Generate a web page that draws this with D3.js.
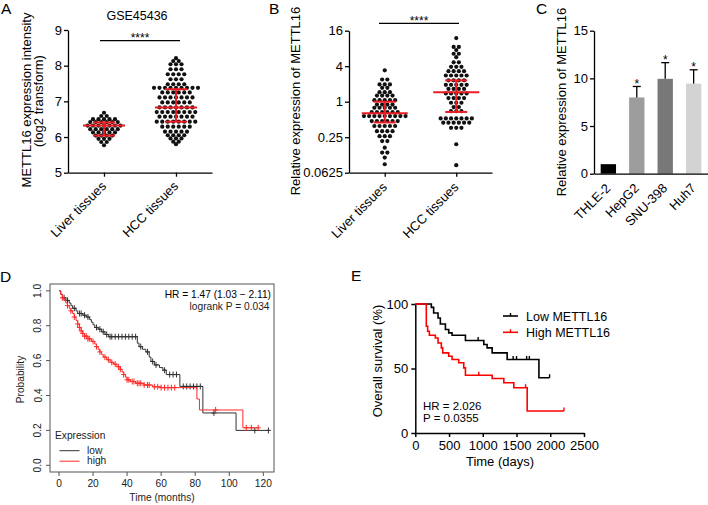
<!DOCTYPE html>
<html><head><meta charset="utf-8">
<script src="https://cdn.jsdelivr.net/npm/d3@7/dist/d3.min.js"></script>
<style>
html,body{margin:0;padding:0;background:#fff;}
svg{display:block;}
</style></head><body>
<svg id="chart" width="708" height="505" viewBox="0 0 708 505"></svg>
<script>
// ================= DATA =================
const groupsAB = ["Liver tissues", "HCC tissues"];

// Panel A – GSE45436, log2 expression intensity
const aTitle = "GSE45436";
const aTicks = [5, 6, 7, 8, 9];
const aLiver = [6.68,
  6.59,6.59,
  6.50,6.50,6.50,6.50,6.50,
  6.42,6.42,6.42,6.42,6.42,6.42,
  6.32,6.32,6.32,6.32,6.32,6.32,6.32,
  6.22,6.22,6.22,6.22,6.22,6.22,
  6.13,6.13,6.13,6.13,6.13,
  6.04,6.04,6.04,6.04,
  5.95,5.95,5.95,
  5.86,5.86,
  5.77];
const aHCC = [8.21,
  8.13,8.13,
  8.04,8.04,8.04,
  7.90,7.90,7.90,
  7.76,7.76,7.76,7.76,
  7.62,7.62,7.62,
  7.48,7.48,7.48,7.48,
  7.38,7.38,7.38,7.38,7.38,7.38,7.38,7.38,7.38,
  7.25,7.25,7.25,7.25,7.25,7.25,
  7.11,7.11,7.11,7.11,7.11,7.11,7.11,
  6.97,6.97,6.97,6.97,6.97,6.97,
  6.83,6.83,6.83,6.83,6.83,6.83,6.83,
  6.70,6.70,6.70,6.70,6.70,6.70,6.70,6.70,
  6.57,6.57,6.57,6.57,6.57,6.57,6.57,
  6.43,6.43,6.43,6.43,6.43,6.43,6.43,6.43,
  6.29,6.29,6.29,6.29,6.29,6.29,
  6.15,6.15,6.15,6.15,6.15,
  6.05,6.05,6.05,6.05,
  5.96,5.96,5.96,
  5.87,5.87,
  5.80];
const aMean = [6.32, 6.83];
const aLow  = [6.04, 6.43];
const aHigh = [6.41, 7.34];

// Panel B – relative expression (log2 axis)
const bTicks = [0.0625, 0.25, 1, 4, 16];
const bLiver = [3.41,
  2.38,2.38,
  1.96,1.96,1.96,
  1.72,1.72,
  1.45,1.45,1.45,
  1.27,1.27,1.27,1.27,
  1.06,1.06,1.06,1.06,1.06,
  0.895,0.895,0.895,0.895,
  0.79,0.79,0.79,0.79,0.79,
  0.665,0.665,0.665,0.665,0.665,0.665,
  0.57,0.57,0.57,0.57,0.57,0.57,0.57,0.57,0.57,
  0.47,0.47,0.47,0.47,0.47,0.47,
  0.387,0.387,0.387,0.387,0.387,
  0.316,0.316,0.316,0.316,
  0.26,0.26,0.26,
  0.215,0.215,
  0.166,
  0.137,0.137,
  0.113,
  0.087];
const bHCC = [12.0,
  8.5,8.5,
  7.5,
  6.5,6.5,
  5.7,
  4.66,4.66,
  3.9,3.9,3.9,
  3.3,3.3,3.3,3.3,
  2.78,2.78,2.78,2.78,2.78,
  2.3,2.3,2.3,2.3,
  1.93,1.93,1.93,1.93,1.93,
  1.65,1.65,1.65,1.65,
  1.38,1.38,1.38,1.38,1.38,
  1.15,1.15,1.15,1.15,
  0.96,0.96,0.96,
  0.81,0.81,
  0.69,0.69,0.69,
  0.52,0.52,0.52,0.52,0.52,0.52,0.52,
  0.44,0.44,0.44,0.44,0.44,0.44,
  0.36,0.36,0.36,
  0.19,
  0.084];
const bMean = [0.64, 1.44];
const bLow  = [0.445, 0.67];
const bHigh = [1.0, 2.3];

// Panel C – cell lines
const cCats = ["THLE-2", "HepG2", "SNU-398", "Huh7"];
const cValues = [1.0, 8.0, 9.95, 9.45];
const cErrors = [0, 1.15, 1.7, 1.45];
const cSig = ["", "*", "*", "*"];
const cTicks = [0, 5, 10, 15];

// Panel D – KM plotter (months)
const dLowT = [0,1,2,4,6,7,8,10,11,14,16,18,19,20,21,23,25,27,29,46,47,49,51,53,54,56,59,61,63,71,84.5,104];
const dLowS = [1,0.98,0.96,0.945,0.93,0.915,0.9,0.885,0.87,0.86,0.85,0.835,0.82,0.805,0.79,0.78,0.765,0.75,0.737,0.70,0.68,0.665,0.65,0.62,0.595,0.575,0.56,0.545,0.52,0.452,0.30,0.20];
const dLowEnd = 123;
const dLowCens = [3,5,9,12,13,15,17,22,24,26,28,30,31,33,35,37,39,41,43,45,48,52,55,57,62,65,67,69,73,75,77,79,81,83,91,115,123];
const dHighT = [0,1,2,3,4,5,6,7,8,9,10,11,12,13,14,15,17,19,21,22,23,24,25,26,28,30,32,34,36,37,38,39,40,42,45,50,55,60,81,82.5,108];
const dHighS = [1,0.98,0.96,0.945,0.93,0.915,0.9,0.885,0.87,0.85,0.83,0.81,0.79,0.77,0.755,0.74,0.725,0.71,0.695,0.68,0.665,0.65,0.635,0.62,0.605,0.59,0.58,0.565,0.55,0.535,0.52,0.505,0.49,0.48,0.47,0.46,0.45,0.445,0.38,0.317,0.215];
const dHighEnd = 117;
const dHighCens = [2,5,7,9,11,12,13,14,15,16,17,18,20,22,24,27,29,31,33,35,36,38,40,41,43,44,46,47,48,50,52,53,56,58,60,62,64,66,68,92,110,113,117];
const dXTicks = [0,20,40,60,80,100,120];
const dYTicks = [0,0.2,0.4,0.6,0.8,1.0];
const dLegend = ["low", "high"];

// Panel E – overall survival (days)
const eLowT = [0,238,272,337,371,446,495,545,743,1015,1064,1139,1361,1832];
const eLowS = [100,97.4,93,89.2,84.5,80.2,77.6,75.8,71.7,68.6,66,62.1,57,42.8];
const eLowEnd = 1990;
const eLowCens = [931,1450,1500,1650,1690,1990];
const eHighT = [0,163,183,208,297,337,386,406,495,545,644,718,743,1139,1312,1460,1658];
const eHighS = [100,82.7,78.9,75.8,73.7,69.8,66,62.1,59.5,57,54.4,50.5,44.8,42.3,39,35.1,17];
const eHighEnd = 2203;
const eHighCens = [941,1634,2203];
const eXTicks = [0,500,1000,1500,2000,2500];
const eYTicks = [0,50,100];
const eLegend = ["Low METTL16", "High METTL16"];

// ================= DRAWING =================
const FONT = '"Liberation Sans", Arial, Helvetica, sans-serif';
const svg = d3.select("#chart");
const RED = "#ec1c24";

function addText(x, y, s, size, o = {}) {
  const t = svg.append("text").attr("x", x).attr("y", y)
    .attr("font-size", size).attr("font-family", FONT)
    .attr("fill", o.fill || "#000").text(s);
  if (o.anchor) t.attr("text-anchor", o.anchor);
  if (o.rotate != null) t.attr("transform", `rotate(${o.rotate},${x},${y})`);
  return t;
}
function addLine(x1, y1, x2, y2, stroke, w) {
  return svg.append("line").attr("x1", x1).attr("y1", y1).attr("x2", x2).attr("y2", y2)
    .attr("stroke", stroke).attr("stroke-width", w);
}
function styleAxis(g, fs, color = "#000", w = 1.3) {
  g.attr("font-family", FONT).attr("font-size", fs);
  g.select(".domain").attr("stroke", color).attr("stroke-width", w);
  g.selectAll(".tick line").attr("stroke", color).attr("stroke-width", w);
  g.selectAll(".tick text").attr("fill", "#000");
}
function rowSwarm(values, cx, yScale, spacing) {
  const out = [];
  d3.groups(values, v => v).forEach(([v, arr]) => {
    const n = arr.length;
    arr.forEach((_, i) => out.push({ x: cx + (i - (n - 1) / 2) * spacing, y: yScale(v) }));
  });
  return out;
}
function meanSd(cx, ym, ylo, yhi, meanW, capW) {
  addLine(cx - meanW / 2, ym, cx + meanW / 2, ym, RED, 2);
  addLine(cx, ylo, cx, yhi, RED, 2);
  addLine(cx - capW / 2, ylo, cx + capW / 2, ylo, RED, 2);
  addLine(cx - capW / 2, yhi, cx + capW / 2, yhi, RED, 2);
}

// Panel letters
addText(1, 14, "A", 15.5);
addText(269, 14, "B", 15.5);
addText(536, 14, "C", 15.5);
addText(0, 282, "D", 15.5);
addText(351, 281, "E", 15.5);

// ---------- Panel A ----------
{
  const y = d3.scaleLinear().domain([5, 9]).range([172.7, 30]);
  const x = d3.scalePoint().domain(groupsAB).range([68, 212]).padding(0.5);
  const gy = svg.append("g").attr("transform", "translate(68,0)")
    .call(d3.axisLeft(y).tickValues(aTicks).tickSize(4).tickPadding(2).tickSizeOuter(0).tickFormat(d3.format("d")));
  styleAxis(gy, 13);
  const gx = svg.append("g").attr("transform", "translate(0,172.7)")
    .call(d3.axisBottom(x).tickSize(4).tickSizeOuter(0).tickFormat(""));
  styleAxis(gx, 13);
  groupsAB.forEach(g => addText(x(g) + 3, 187, g, 13, { anchor: "end", rotate: -45 }));
  [aLiver, aHCC].forEach((vals, i) => {
    rowSwarm(vals, x(groupsAB[i]), y, 5.5).forEach(p =>
      svg.append("circle").attr("cx", p.x).attr("cy", p.y).attr("r", 2.1).attr("fill", "#111"));
  });
  groupsAB.forEach((g, i) => meanSd(x(g), y(aMean[i]), y(aLow[i]), y(aHigh[i]), 42, 22));
  addLine(100, 40.7, 180, 40.7, "#000", 1.3);
  addText(140, 41.5, "****", 12, { anchor: "middle" });
  addText(137, 20, aTitle, 12.5, { anchor: "middle" });
  addText(30.5, 100, "METTL16 expression intensity", 13, { anchor: "middle", rotate: -90 });
  addText(42.5, 101, "(log2 transform)", 13, { anchor: "middle", rotate: -90 });
}

// ---------- Panel B ----------
{
  const y = d3.scaleLog().base(2).domain([0.0625, 16]).range([172.7, 30.7]);
  const x = d3.scalePoint().domain(groupsAB).range([349, 492]).padding(0.5);
  const gy = svg.append("g").attr("transform", "translate(349,0)")
    .call(d3.axisLeft(y).tickValues(bTicks).tickSize(4).tickPadding(2).tickSizeOuter(0).tickFormat(d => String(d)));
  styleAxis(gy, 13);
  const gx = svg.append("g").attr("transform", "translate(0,172.7)")
    .call(d3.axisBottom(x).tickSize(4).tickSizeOuter(0).tickFormat(""));
  styleAxis(gx, 13);
  groupsAB.forEach(g => addText(x(g) + 3, 188, g, 13, { anchor: "end", rotate: -45 }));
  [bLiver, bHCC].forEach((vals, i) => {
    rowSwarm(vals, x(groupsAB[i]), y, 5.2).forEach(p =>
      svg.append("circle").attr("cx", p.x).attr("cy", p.y).attr("r", 2.1).attr("fill", "#111"));
  });
  groupsAB.forEach((g, i) => meanSd(x(g), y(bMean[i]), y(bLow[i]), y(bHigh[i]), 46, 22));
  addLine(379, 23.3, 459, 23.3, "#000", 1.3);
  addText(419, 25, "****", 12, { anchor: "middle" });
  addText(300, 101, "Relative expression of METTL16", 13, { anchor: "middle", rotate: -90 });
}

// ---------- Panel C ----------
{
  const y = d3.scaleLinear().domain([0, 15]).range([173.7, 30.7]);
  const x = d3.scaleBand().domain(cCats).range([594, 708]).paddingInner(0.46).paddingOuter(0.235);
  const colors = ["#000000", "#9d9d9d", "#787878", "#d3d3d3"];
  const gy = svg.append("g").attr("transform", "translate(594,0)")
    .call(d3.axisLeft(y).tickValues(cTicks).tickSize(4).tickPadding(2).tickSizeOuter(0));
  styleAxis(gy, 13);
  svg.selectAll("rect.barC").data(cCats).enter().append("rect").attr("class", "barC")
    .attr("x", d => x(d)).attr("width", x.bandwidth())
    .attr("y", (d, i) => y(cValues[i])).attr("height", (d, i) => y(0) - y(cValues[i]))
    .attr("fill", (d, i) => colors[i]);
  const gx = svg.append("g").attr("transform", "translate(0,173.7)")
    .call(d3.axisBottom(x).tickSize(0).tickSizeOuter(0).tickFormat(""));
  styleAxis(gx, 13);
  cCats.forEach((c, i) => {
    const cx = x(c) + x.bandwidth() / 2;
    if (cErrors[i] > 0) {
      addLine(cx, y(cValues[i]), cx, y(cValues[i] + cErrors[i]), "#000", 1.3);
      addLine(cx - 4, y(cValues[i] + cErrors[i]), cx + 4, y(cValues[i] + cErrors[i]), "#000", 1.3);
    }
    if (cSig[i]) addText(cx, y(cValues[i] + cErrors[i]) + 1.5, cSig[i], 12, { anchor: "middle" });
    addText(cx + 3, 189, c, 13, { anchor: "end", rotate: -45 });
  });
  addText(566, 102, "Relative expression of METTL16", 13, { anchor: "middle", rotate: -90 });
}

// ---------- KM helpers ----------
function kmPath(times, surv, end, xs, ys) {
  const pts = times.map((t, i) => [t, surv[i]]);
  pts.push([end, surv[surv.length - 1]]);
  return d3.line().x(d => xs(d[0])).y(d => ys(d[1])).curve(d3.curveStepAfter)(pts);
}
function survAt(times, surv, t) {
  let s = surv[0];
  for (let i = 0; i < times.length; i++) if (times[i] <= t) s = surv[i];
  return s;
}

// ---------- Panel D ----------
{
  const x = d3.scaleLinear().domain([0, 120]).range([59, 263.3]);
  const y = d3.scaleLinear().domain([0, 1]).range([465.3, 290.8]);
  const AX = "#555", TX = "#222", FS = 10.2;
  svg.append("rect").attr("x", 50).attr("y", 284).attr("width", 224).attr("height", 188)
    .attr("fill", "none").attr("stroke", AX).attr("stroke-width", 1);
  dXTicks.forEach(t => {
    addLine(x(t), 472, x(t), 476, AX, 1);
    addText(x(t), 487.3, String(t), FS, { anchor: "middle", fill: TX });
  });
  dYTicks.forEach(t => {
    addLine(46, y(t), 50, y(t), AX, 1);
    addText(41.5, y(t), t.toFixed(1), FS, { anchor: "middle", rotate: -90, fill: TX });
  });
  addText(24, 379.5, "Probability", FS, { anchor: "middle", rotate: -90, fill: TX });
  addText(162, 501, "Time (months)", FS, { anchor: "middle", fill: TX });
  const series = [
    { T: dLowT, S: dLowS, end: dLowEnd, cens: dLowCens, color: "#333" },
    { T: dHighT, S: dHighS, end: dHighEnd, cens: dHighCens, color: "#ff2a2a" }
  ];
  series.forEach(s => {
    svg.append("path").attr("d", kmPath(s.T, s.S, s.end, x, y))
      .attr("fill", "none").attr("stroke", s.color).attr("stroke-width", 1);
    s.cens.forEach(t => {
      const cx = x(t), cy = y(survAt(s.T, s.S, t));
      addLine(cx, cy - 3, cx, cy + 3, s.color, 1);
      addLine(cx - 2.5, cy, cx + 2.5, cy, s.color, 1);
    });
  });
  addText(271, 298, "HR = 1.47 (1.03 \u2212 2.11)", FS, { anchor: "end", fill: "#000" });
  addText(269.5, 309.5, "logrank P = 0.034", FS, { anchor: "end", fill: "#222" });
  addText(55, 439, "Expression", FS, { fill: TX });
  dLegend.forEach((l, i) => {
    const yy = 450.7 + i * 10.5;
    addLine(59.5, yy, 79.5, yy, series[i].color, 1);
    addText(87, yy + 3.2, l, FS, { fill: TX });
  });
}

// ---------- Panel E ----------
{
  const x = d3.scaleLinear().domain([0, 2500]).range([415.3, 584]);
  const y = d3.scaleLinear().domain([0, 100]).range([433, 304]);
  const gy = svg.append("g").attr("transform", "translate(415.3,0)")
    .call(d3.axisLeft(y).tickValues(eYTicks).tickSize(4).tickPadding(3).tickSizeOuter(0).tickFormat(d3.format("d")));
  styleAxis(gy, 13, "#000", 1.5);
  const gx = svg.append("g").attr("transform", "translate(0,433)")
    .call(d3.axisBottom(x).tickValues(eXTicks).tickSize(4).tickPadding(4).tickSizeOuter(0).tickFormat(d3.format("d")));
  styleAxis(gx, 13, "#000", 1.5);
  addText(382, 361, "Overall survival (%)", 13, { anchor: "middle", rotate: -90 });
  addText(500, 466, "Time (days)", 13, { anchor: "middle" });
  const series = [
    { T: eLowT, S: eLowS, end: eLowEnd, cens: eLowCens, color: "#000" },
    { T: eHighT, S: eHighS, end: eHighEnd, cens: eHighCens, color: "#ff0000" }
  ];
  series.forEach(s => {
    svg.append("path").attr("d", kmPath(s.T, s.S, s.end, x, y))
      .attr("fill", "none").attr("stroke", s.color).attr("stroke-width", 1.6);
    s.cens.forEach(t => {
      const cx = x(t), cy = y(survAt(s.T, s.S, t));
      addLine(cx, cy, cx, cy - 3.5, s.color, 1.4);
    });
  });
  eLegend.forEach((l, i) => {
    const yy = 316 + i * 16.3;
    addLine(503, yy, 518, yy, series[i].color, 1.6);
    addLine(510.5, yy, 510.5, yy - 3, series[i].color, 1.4);
    addText(526, yy + 4.5, l, 12.5);
  });
  addText(423, 410, "HR = 2.026", 11.5);
  addText(423, 422, "P = 0.0355", 11.5);
}
</script>
</body></html>
